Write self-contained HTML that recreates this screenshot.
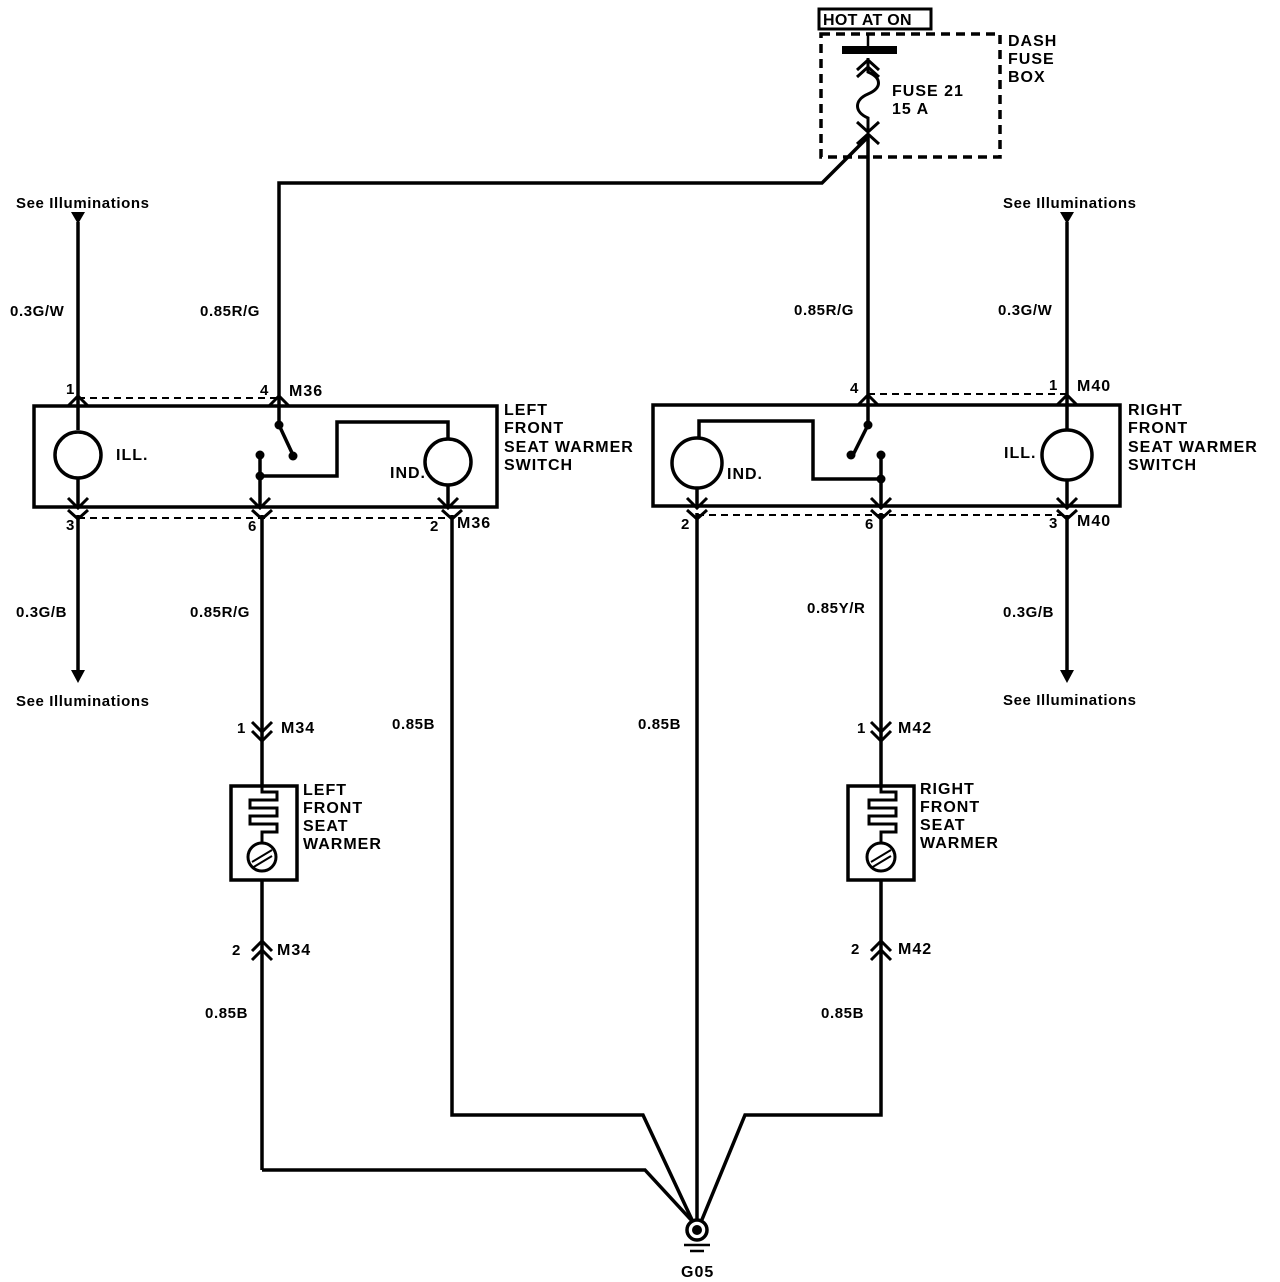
<!DOCTYPE html>
<html><head><meta charset="utf-8"><style>
html,body{margin:0;padding:0;background:#fff}
svg{display:block}
text{font-family:"Liberation Sans",Arial,sans-serif;fill:#000}
.b{font-weight:bold;font-size:16px;letter-spacing:1px}
.n{font-size:15px;font-weight:bold;letter-spacing:0.6px}
</style></head><body>
<svg width="1280" height="1282" viewBox="0 0 1280 1282" xmlns="http://www.w3.org/2000/svg">
<g fill="none" stroke="#000" stroke-width="3.5">
<!-- fuse box -->
<rect x="819" y="9" width="112" height="20" stroke-width="3"/>
<rect x="821" y="34" width="179" height="123" stroke-dasharray="9,6"/>
<line x1="842" y1="50" x2="897" y2="50" stroke-width="8"/>
<line x1="868" y1="34" x2="868" y2="47" stroke-width="2.5"/>
<path d="M868,58 L868,72 C882,78 882,88 868,94 C854,100 854,112 868,118 L868,130" stroke-width="3"/>
<path d="M857,70 L868,60 L879,70 M857,77 L868,67 L879,77 M857,122 L868,132 L879,122 M857,144 L868,134 L879,144" stroke-width="3"/>
<line x1="868" y1="135" x2="868" y2="400"/>
<polyline points="868,137 822,183 279,183 279,400"/>
<!-- left switch -->
<rect x="34" y="406" width="463" height="101"/>
<line x1="78" y1="398" x2="279" y2="398" stroke-dasharray="7,5" stroke-width="2"/>
<line x1="78" y1="518" x2="452" y2="518" stroke-dasharray="7,5" stroke-width="2"/>
<line x1="78" y1="222" x2="78" y2="430"/>
<circle cx="78" cy="455" r="23"/>
<line x1="78" y1="478" x2="78" y2="507"/>
<line x1="78" y1="515" x2="78" y2="672"/>
<line x1="279" y1="400" x2="279" y2="425"/>
<line x1="279" y1="425" x2="293" y2="455"/>
<path d="M260,455 L260,476 L337,476 L337,422 L448,422 L448,439"/>
<circle cx="448" cy="462" r="23"/>
<line x1="448" y1="485" x2="448" y2="507"/>
<line x1="260" y1="476" x2="260" y2="507"/>
<line x1="262" y1="515" x2="262" y2="785"/>
<polyline points="452,515 452,1115 643,1115 693,1222"/>
<!-- left warmer -->
<rect x="231" y="786" width="66" height="94"/>
<path d="M262,786 L262,792 L277,792 L277,800 L250,800 L250,808 L277,808 L277,816 L250,816 L250,824 L277,824 L277,832 L262,832 L262,842" stroke-width="3"/>
<circle cx="262" cy="857" r="14" stroke-width="3"/>
<path d="M252,862 L272,850 M252,868 L272,856" stroke-width="2"/>
<line x1="262" y1="880" x2="262" y2="1170"/>
<polyline points="262,1170 645,1170 693,1222"/>
<!-- right switch -->
<rect x="653" y="405" width="467" height="101"/>
<line x1="868" y1="394" x2="1067" y2="394" stroke-dasharray="7,5" stroke-width="2"/>
<line x1="697" y1="515" x2="1067" y2="515" stroke-dasharray="7,5" stroke-width="2"/>
<line x1="1067" y1="222" x2="1067" y2="430"/>
<circle cx="1067" cy="455" r="25"/>
<line x1="1067" y1="480" x2="1067" y2="506"/>
<line x1="1067" y1="515" x2="1067" y2="672"/>
<line x1="868" y1="400" x2="868" y2="425"/>
<line x1="868" y1="425" x2="853" y2="455"/>
<path d="M881,455 L881,479 L813,479 L813,421 L699,421 L699,438"/>
<circle cx="697" cy="463" r="25"/>
<line x1="697" y1="488" x2="697" y2="506"/>
<line x1="881" y1="479" x2="881" y2="506"/>
<line x1="697" y1="513" x2="697" y2="1220"/>
<line x1="881" y1="513" x2="881" y2="785"/>
<polyline points="881,880 881,1115 745,1115 701,1222"/>
<rect x="848" y="786" width="66" height="94"/>
<path d="M881,786 L881,792 L896,792 L896,800 L869,800 L869,808 L896,808 L896,816 L869,816 L869,824 L896,824 L896,832 L881,832 L881,842" stroke-width="3"/>
<circle cx="881" cy="857" r="14" stroke-width="3"/>
<path d="M871,862 L891,850 M871,868 L891,856" stroke-width="2"/>
<!-- chevrons -->
<path d="M68,406 L78,396 L88,406 M68,498 L78,508 L88,498 M68,510 L78,519 L88,510
M269,406 L279,396 L289,406 M250,498 L260,508 L270,498 M252,510 L262,519 L272,510
M438,498 L448,508 L458,498 M442,510 L452,519 L462,510
M687,498 L697,508 L707,498 M687,510 L697,519 L707,510
M871,498 L881,508 L891,498 M871,510 L881,519 L891,510
M1057,498 L1067,508 L1077,498 M1057,510 L1067,519 L1077,510
M858,405 L868,395 L878,405 M1057,405 L1067,395 L1077,405
M252,722 L262,732 L272,722 M252,731 L262,741 L272,731
M871,722 L881,732 L891,722 M871,731 L881,741 L891,731
M252,951 L262,941 L272,951 M252,960 L262,950 L272,960
M871,951 L881,941 L891,951 M871,960 L881,950 L891,960" stroke-width="3"/>
<!-- ground -->
<circle cx="697" cy="1230" r="10"/>
<line x1="684" y1="1245" x2="710" y2="1245" stroke-width="2.5"/>
<line x1="690" y1="1251" x2="704" y2="1251" stroke-width="2.5"/>
</g>
<g fill="#000">
<polygon points="71,212 85,212 78,224"/>
<polygon points="1060,212 1074,212 1067,224"/>
<polygon points="71,670 85,670 78,683"/>
<polygon points="1060,670 1074,670 1067,683"/>
<circle cx="279" cy="425" r="4.5"/><circle cx="293" cy="456" r="4.5"/><circle cx="260" cy="455" r="4.5"/><circle cx="260" cy="476" r="4.5"/>
<circle cx="868" cy="425" r="4.5"/><circle cx="851" cy="455" r="4.5"/><circle cx="881" cy="455" r="4.5"/><circle cx="881" cy="479" r="4.5"/>
<circle cx="697" cy="1230" r="5"/>
</g>
<text x="823" y="25" style="font-size:16px;font-weight:bold;letter-spacing:0.3px">HOT AT ON</text>
<text x="1008" y="46" class="b">DASH</text>
<text x="1008" y="64" class="b">FUSE</text>
<text x="1008" y="82" class="b">BOX</text>
<text x="892" y="96" class="b">FUSE 21</text>
<text x="892" y="114" class="b">15 A</text>
<text x="16" y="208" class="n">See Illuminations</text>
<text x="1003" y="208" class="n">See Illuminations</text>
<text x="16" y="706" class="n">See Illuminations</text>
<text x="1003" y="705" class="n">See Illuminations</text>
<text x="10" y="316" class="n">0.3G/W</text>
<text x="200" y="316" class="n">0.85R/G</text>
<text x="794" y="315" class="n">0.85R/G</text>
<text x="998" y="315" class="n">0.3G/W</text>
<text x="16" y="617" class="n">0.3G/B</text>
<text x="190" y="617" class="n">0.85R/G</text>
<text x="807" y="613" class="n">0.85Y/R</text>
<text x="1003" y="617" class="n">0.3G/B</text>
<text x="392" y="729" class="n">0.85B</text>
<text x="638" y="729" class="n">0.85B</text>
<text x="205" y="1018" class="n">0.85B</text>
<text x="821" y="1018" class="n">0.85B</text>
<text x="66" y="394" class="n">1</text>
<text x="260" y="395" class="n">4</text>
<text x="289" y="396" class="b">M36</text>
<text x="66" y="530" class="n">3</text>
<text x="248" y="531" class="n">6</text>
<text x="430" y="531" class="n">2</text>
<text x="457" y="528" class="b">M36</text>
<text x="504" y="415" class="b">LEFT</text>
<text x="504" y="433" class="b">FRONT</text>
<text x="504" y="452" class="b">SEAT WARMER</text>
<text x="504" y="470" class="b">SWITCH</text>
<text x="116" y="460" class="b">ILL.</text>
<text x="390" y="478" class="b">IND.</text>
<text x="850" y="393" class="n">4</text>
<text x="1049" y="390" class="n">1</text>
<text x="1077" y="391" class="b">M40</text>
<text x="681" y="529" class="n">2</text>
<text x="865" y="529" class="n">6</text>
<text x="1049" y="528" class="n">3</text>
<text x="1077" y="526" class="b">M40</text>
<text x="1128" y="415" class="b">RIGHT</text>
<text x="1128" y="433" class="b">FRONT</text>
<text x="1128" y="452" class="b">SEAT WARMER</text>
<text x="1128" y="470" class="b">SWITCH</text>
<text x="1004" y="458" class="b">ILL.</text>
<text x="727" y="479" class="b">IND.</text>
<text x="237" y="733" class="n">1</text>
<text x="281" y="733" class="b">M34</text>
<text x="857" y="733" class="n">1</text>
<text x="898" y="733" class="b">M42</text>
<text x="232" y="955" class="n">2</text>
<text x="277" y="955" class="b">M34</text>
<text x="851" y="954" class="n">2</text>
<text x="898" y="954" class="b">M42</text>
<text x="303" y="795" class="b">LEFT</text>
<text x="303" y="813" class="b">FRONT</text>
<text x="303" y="831" class="b">SEAT</text>
<text x="303" y="849" class="b">WARMER</text>
<text x="920" y="794" class="b">RIGHT</text>
<text x="920" y="812" class="b">FRONT</text>
<text x="920" y="830" class="b">SEAT</text>
<text x="920" y="848" class="b">WARMER</text>
<text x="681" y="1277" class="b">G05</text>
</svg>
</body></html>
